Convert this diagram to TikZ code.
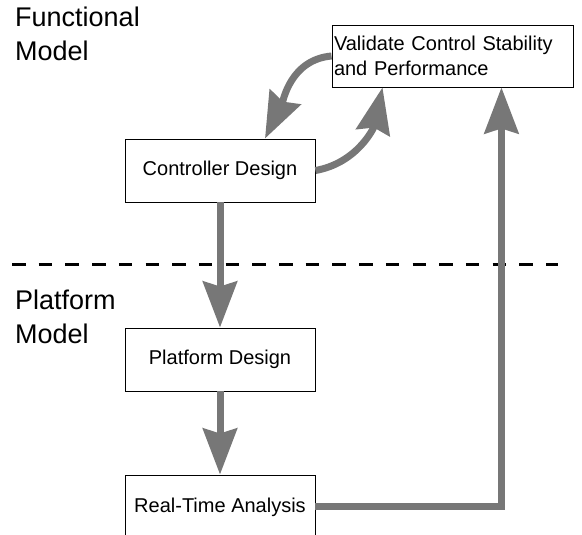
\documentclass[tikz,border=0pt]{standalone}
\usepackage{fontspec}
\setmainfont{Liberation Sans}
\usetikzlibrary{arrows.meta}
\definecolor{flowgray}{RGB}{119,119,119}

\begin{document}
\begin{tikzpicture}[x=1pt,y=1pt,
    box/.style={draw=black,line width=0.9pt,fill=white,minimum width=190pt,minimum height=63pt,
        font=\fontsize{20}{25}\selectfont},
    flow/.style={draw=flowgray,line width=7pt,-{Stealth[length=46pt,width=34pt,inset=5pt]}},
    layer/.style={anchor=base west,inner sep=0pt,align=left,font=\fontsize{27}{34}\selectfont}]
        \clip (0,0) rectangle (582,535);

        % layer labels and border
        \node[layer] (fun) at (15,474) {Functional\\Model};
        \node[layer] (pla) at (15,191) {Platform\\Model};
        \draw[line width=3pt,dash pattern=on 13.5pt off 13.2pt] (12,270) -- (558,270);

        % boxes
        \node[box] (val) at (452.5,479) [minimum width=0pt,minimum height=62pt,text width=237pt,
            inner xsep=2pt,align=left] {Validate Control Stability\\and Performance};
        \node[box] (ctrl) at (220,364.5) {Controller Design};
        \node[box] (plat) at (220,175.5) {Platform Design};
        \node[box] (rta) at (220,28) [minimum height=64pt] {Real-Time Analysis};
        \coordinate (vin) at ([xshift=-72pt]val.south east);

        % connectors
        \draw[flow] (val.west) to[out=185,in=64] ([xshift=45pt]ctrl.north);
        \draw[flow] (ctrl.east) to[out=10,in=-102] ([xshift=-70pt]val.south);
        \draw[flow] (ctrl.south) -- (plat.north);
        \draw[flow] (plat.south) -- (rta.north);
        \draw[flow] (rta.east) -| (vin);

\end{tikzpicture}
\end{document}
